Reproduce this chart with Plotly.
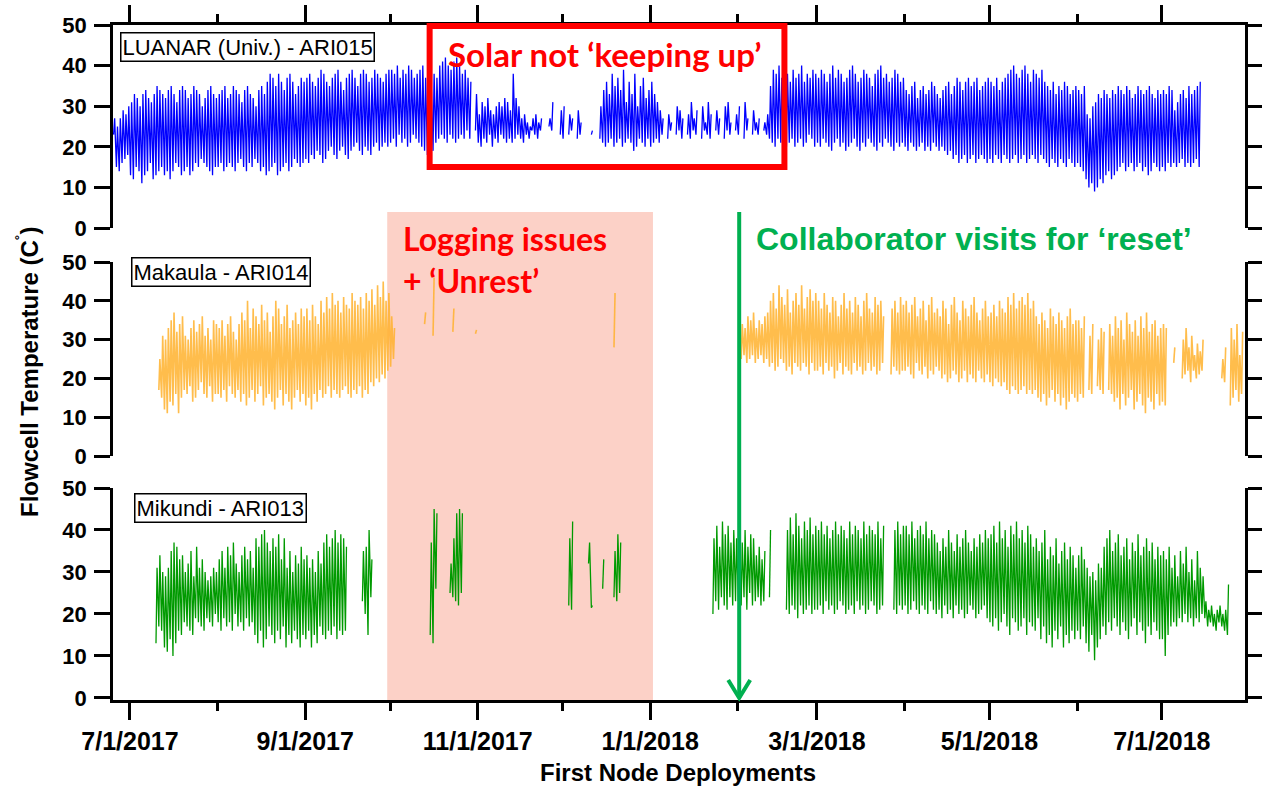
import pandas as pd
import plotly.graph_objects as go

N = None
START = "2017-06-25"          # first day of the daily series below
X_RANGE = ["2017-06-25 00:00", "2018-07-30 10:00"]

# ---------------- LUANAR (Univ.) - ARI015 : daily max / min (deg C) ----------------
luanar_hi = (
    [27, 25, 27, 29, 28, 30] +                                                             # Jun 25-30
    [31, 33, 32, 30, 33, 34, 32, 31, 33, 35, 34, 33, 32, 34, 35, 33, 31, 34, 35, 34,
     32, 33, 35, 34, 33, 30, 32, 34, 35, 33, 32] +                                         # Jul
    [33, 34, 35, 32, 33, 35, 34, 33, 31, 34, 35, 33, 32, 30, 34, 35, 33, 36, 38, 37,
     35, 38, 36, 34, 37, 38, 36, 33, 35, 37, 36] +                                         # Aug
    [37, 38, 36, 35, 37, 39, 38, 36, 35, 37, 38, 39, 36, 34, 37, 38, 39, 37, 35, 38,
     39, 38, 36, 37, 39, 38, 37, 36, 38, 39] +                                             # Sep
    [39, 38, 40, 37, 39, 38, 40, 39, 37, 38, 39, 40, 37, 36, 35, 38, 37, 40, 41, 42,
     40, 39, 41, 42, 40, 38, 39, 37, 36, N, 33] +                                          # Oct
    [28, 31, 30, 32, 29, 28, 30, 31, 30, 32, 31, 29, 38, 32, 30, 27, 28, 26, 25, 27,
     28, 26, 27, N, N, 27, 31, N, N, 29] +                                                 # Nov
    [30, N, 28, 27, N, 29, 26, N, N, N, 24, N, N, 30, 34, 36, 33, 38, 35, 37,
     34, 39, 31, 36, 33, 38, 30, 35, 37, 32, 34] +                                         # Dec
    [36, 33, 31, 29, 27, N, 28, 26, N, 30, 29, 27, N, 28, 31, 27, 29, N, 30, 26,
     31, 28, N, 29, 27, N, 30, 31, 26, N, 28] +                                            # Jan 2018
    [30, N, 31, 27, N, 29, 26, 27, N, 26, 28, 35, 39, 38, 40, 37, 39, 38, 36, 39,
     37, 38, 40, 36, 38, 37, 39, 38] +                                                     # Feb
    [37, 39, 38, 36, 38, 40, 37, 39, 38, 36, 37, 39, 40, 38, 36, 37, 39, 38, 37, 35,
     38, 39, 40, 37, 38, 36, 37, 39, 38, 36, 37] +                                         # Mar
    [34, 33, 35, 36, 32, 34, 35, 33, 34, 36, 35, 33, 32, 34, 35, 36, 33, 35, 37, 36,
     34, 36, 37, 35, 36, 37, 34, 35, 36, 37] +                                             # Apr
    [36, 35, 37, 34, 36, 37, 38, 39, 40, 38, 37, 39, 40, 38, 36, 39, 38, 37, 39, 36,
     35, 34, 36, 33, 35, 34, 36, 35, 33, 34, 35] +                                         # May
    [34, 33, 35, 28, 27, 30, 31, 33, 32, 34, 33, 32, 34, 33, 35, 34, 33, 35, 34, 32,
     33, 35, 34, 33, 34, 35, 33, 32, 34, 33] +                                             # Jun
    [34, 33, 35, 34, 29, 31, 33, 34, 32, 35, 33, 34, 35, 36] + [N] * 15                    # Jul
)
luanar_lo = (
    [23, 15, 14, 16, 17, 18] +
    [13, 12, 15, 14, 11, 13, 14, 16, 12, 13, 14, 15, 13, 14, 12, 14, 16, 15, 13, 14,
     15, 13, 14, 16, 15, 17, 16, 15, 14, 13, 15] +
    [15, 16, 14, 15, 16, 15, 14, 16, 17, 15, 14, 16, 15, 17, 16, 14, 15, 13, 14, 15,
     16, 13, 14, 15, 16, 14, 15, 17, 16, 15, 16] +
    [17, 16, 18, 17, 19, 18, 16, 17, 19, 20, 18, 17, 19, 20, 18, 17, 19, 20, 21, 19,
     18, 20, 19, 18, 20, 21, 19, 20, 21, 20] +
    [21, 22, 20, 23, 21, 22, 20, 21, 23, 22, 21, 20, 19, 18, 17, 19, 21, 22, 23, 22,
     21, 23, 22, 21, 22, 23, 22, 24, 22, N, 24] +
    [21, 20, 22, 21, 23, 20, 22, 21, 23, 22, 21, 22, 21, 22, 23, 22, 21, 23, 22, 24,
     23, 22, 24, N, N, 25, 24, N, N, 23] +
    [22, N, 23, 24, N, 22, 23, N, N, N, 23, N, N, 22, 21, 20, 21, 22, 20, 21,
     22, 20, 21, 22, 21, 19, 20, 22, 21, 20, 22] +
    [20, 21, 22, 21, 23, N, 22, 24, N, 23, 24, 22, N, 23, 22, 24, 23, N, 22, 24,
     23, 22, N, 24, 23, N, 22, 24, 23, N, 24] +
    [23, N, 22, 24, N, 23, 24, 23, N, 24, 23, 22, 21, 20, 22, 21, 23, 20, 21, 22,
     20, 21, 22, 20, 21, 23, 22, 20] +
    [21, 20, 22, 21, 20, 19, 21, 22, 20, 21, 19, 20, 21, 22, 20, 19, 21, 20, 22, 21,
     20, 19, 21, 20, 22, 21, 20, 19, 21, 20, 21] +
    [20, 19, 21, 20, 19, 20, 21, 19, 20, 19, 21, 20, 19, 20, 19, 18, 19, 17, 18, 16,
     17, 18, 16, 17, 18, 16, 17, 18, 17, 16] +
    [17, 16, 18, 17, 16, 18, 17, 16, 17, 18, 16, 17, 18, 16, 17, 18, 17, 16, 18, 17,
     16, 15, 17, 16, 15, 17, 16, 15, 17, 16, 15] +
    [16, 15, 14, 12, 10, 11, 9, 10, 12, 11, 13, 14, 12, 13, 14, 15, 16, 14, 15, 16,
     14, 15, 16, 14, 15, 13, 14, 16, 15, 14] +
    [15, 14, 16, 15, 16, 15, 16, 17, 15, 16, 15, 16, 17, 15] + [N] * 15
)

# ---------------- Makaula - ARI014 : daily max / min (deg C) ----------------
makaula_hi = (
    [N] * 6 +
    [N] * 10 + [25, 31, 30, 33, 35, 37, 32, 34, 36, 31, 30, 33, 35, 32, 34, 36, 31, 33, 30, 35, 34] +
    [33, 35, 31, 34, 36, 32, 30, 34, 37, 35, 40, 33, 38, 36, 34, 39, 35, 37, 32, 36,
     40, 38, 34, 36, 39, 33, 35, 37, 34, 38, 36] +
    [38, 35, 39, 36, 34, 40, 37, 41, 38, 42, 39, 40, 37, 41, 39, 38, 42, 40, 39, 41,
     38, 42, 40, 43, 39, 44, 41, 45, 40, 42] +
    [36, 33] + [N] * 10 + [37, N, N, 46] + [N] * 6 + [38] + [N] * 7 + [32.5] +
    [N] * 30 +
    [N] * 18 + [42] + [N] * 12 +
    [N] * 31 +
    [N, 34, 33, 36, 35, 37, 33, 35, 34, 36, 37, 40, 42, 38, 44, 41, 39, 43, 37, 40,
     42, 39, 44, 38, 41, 43, 40, 42] +
    [40, 38, 42, 39, 37, 41, 40, 36, 39, 42, 38, 40, 37, 41, 39, 36, 40, 42, 38, 37,
     41, 39, 40, 36, N, N, 38, 40, 37, 41, 39] +
    [40, 37, 39, 41, 36, 38, 40, 35, 39, 41, 37, 38, 36, 40, 38, 34, 39, 41, 37, 35,
     40, 38, 36, 39, 41, 37, 35, 38, 40, 36] +
    [37, 39, 36, 40, 38, 37, 41, 39, 42, 38, 40, 41, 39, 42, 38, 40, 36, 34, 37, 35,
     33, 38, 36, 34, 37, 35, 33, 36, 38, 34, 35] +
    [35, 33, 36, N, 31, 34, N, 30, 33, 32, N, 34, 31, 36, 33, 35, 30, 37, 34, 32,
     35, 31, 36, 33, 37, 32, 34, 35, 31, 33] +
    [34, 33, N, N, 28, N, N, 30, 33, 28, 31, 26, 29, 27, 30] + [N] * 6 + [25, 28, N, 33, 30, 34, 26, 32]
)
makaula_lo = (
    [N] * 6 +
    [N] * 10 + [17, 15, 12, 11, 14, 13, 16, 11, 15, 17, 16, 18, 14, 15, 17, 19, 16, 15, 18, 14, 16] +
    [16, 15, 17, 14, 18, 16, 15, 17, 14, 16, 13, 15, 17, 14, 16, 18, 13, 15, 16, 14,
     12, 15, 17, 13, 16, 14, 12, 15, 17, 14, 16] +
    [13, 15, 12, 16, 14, 17, 15, 16, 18, 15, 17, 16, 15, 17, 18, 16, 15, 17, 16, 18,
     15, 17, 16, 19, 18, 20, 19, 21, 20, 22] +
    [23, 25] + [N] * 10 + [34, N, N, 31] + [N] * 6 + [32] + [N] * 7 + [31.5] +
    [N] * 30 +
    [N] * 18 + [28] + [N] * 12 +
    [N] * 31 +
    [N, 25, 26, 24, 25, 26, 24, 25, 26, 24, 25, 23, 24, 22, 23, 25, 24, 22, 23, 21,
     24, 23, 22, 24, 23, 21, 24, 22] +
    [22, 23, 21, 24, 22, 23, 20, 22, 24, 21, 23, 22, 21, 24, 22, 23, 21, 22, 24, 22,
     23, 21, 22, 24, N, N, 21, 23, 22, 21, 22] +
    [22, 23, 21, 20, 24, 22, 21, 23, 20, 22, 21, 23, 22, 20, 21, 19, 20, 22, 21, 19,
     20, 22, 19, 21, 20, 19, 22, 20, 19, 21] +
    [19, 18, 20, 19, 18, 19, 17, 16, 18, 17, 16, 17, 18, 16, 17, 16, 17, 15, 14, 16,
     13, 15, 17, 14, 16, 13, 15, 12, 14, 16, 15] +
    [14, 16, 15, N, 17, 16, N, 18, 17, 16, N, 17, 16, 14, 15, 12, 16, 13, 15, 17,
     12, 14, 16, 13, 11, 15, 14, 12, 16, 13] +
    [14, 13, N, N, 24, N, N, 20, 21, 22, 19, 22, 20, 21, 22] + [N] * 6 + [20, 19, N, 13, 15, 17, 14, 16]
)

# ---------------- Mikundi - ARI013 : daily max / min (deg C) ----------------
mikundi_hi = (
    [N] * 6 +
    [N] * 9 + [31, 34, 30, 29, 31, 35, 37, 36, 33, 34, 30, 32, 35, 29, 36, 31, 33, 30, 28, 29, 31, 30] +
    [33, 35, 31, 36, 34, 37, 32, 30, 34, 36, 33, 35, 31, 38, 36, 39, 40, 37, 35, 38,
     36, 39, 33, 38, 31, 35, 30, 34, 32, 36, 33] +
    [34, 31, 33, 30, 35, 32, 37, 39, 36, 38, 40, 37, 39, 38, 36] + [N] * 5 + [35, 36, 40, 33] + [N] * 6 +
    [N] * 14 + [37, 45, 44] + [N] * 4 + [32, 38, 44, 45, 44] + [N] * 5 +
    [N] * 30 +
    [N, N, 38, 42] + [N] * 5 + [37, 22] + [N] * 3 + [33] + [N] * 3 + [35, 39, 37] + [N] * 10 +
    [N] * 22 + [38, 41, 36, 42, 39, 41, 37, 40, 38] +
    [41, 37, 40, 36, 39, 38, 34, 36, 33, 35, N, 40] + [N] * 5 + [40, 43, 39, 44, 41, 38, 42, 40, 43, 39, 41] +
    [40, 42, 39, 41, 38, 40, 42, 39, 41, 40, 38, 42, 39, 41, 40, 38, 42, 39, 41, 40,
     39, 42, 38, 41, N, N, N, 40, 42, 39, 41] +
    [41, 39, 42, 38, 40, 41, 39, 42, 38, 40, 39, 37, 35, 38, 36, 40, 37, 35, 39, 36,
     38, 40, 37, 35, 38, 36, 39, 37, 40, 38] +
    [39, 41, 37, 42, 38, 40, 36, 41, 39, 42, 38, 40, 37, 41, 39, 36, 38, 35, 37, 40,
     33, 36, 34, 38, 32, 35, 37, 33, 36, 34, 31] +
    [34, 36, 33, 31, 29, 30, 28, 32, 31, 36, 38, 40, 35, 37, 39, 34, 36, 38, 33, 37,
     35, 39, 34, 36, 38, 35, 37, 33, 36, 34] +
    [35, 33, 36, 31, 34, 29, 35, 32, 36, 30, 33, 28, 35, 31, 29, 23, 21, 22, 20, 21,
     22, 20, 21, 27] + [N] * 5
)
mikundi_lo = (
    [N] * 6 +
    [N] * 9 + [13, 17, 16, 12, 11, 14, 10, 13, 16, 15, 18, 17, 16, 15, 19, 18, 17, 16, 19, 18, 17, 20] +
    [18, 16, 19, 17, 18, 16, 20, 17, 18, 16, 19, 17, 18, 15, 13, 16, 12, 14, 17, 15,
     13, 16, 14, 17, 12, 15, 13, 16, 14, 12, 15] +
    [14, 16, 12, 15, 13, 17, 15, 14, 16, 15, 17, 14, 16, 15, 16] + [N] * 5 + [23, 20, 15, 24] + [N] * 6 +
    [N] * 14 + [15, 13, 26] + [N] * 4 + [25, 24, 23, 22, 25] + [N] * 5 +
    [N] * 30 +
    [N, N, 22, 21] + [N] * 5 + [32, 21.5] + [N] * 3 + [26] + [N] * 3 + [24, 23, 25] + [N] * 10 +
    [N] * 22 + [20, 23, 21, 24, 22, 21, 24, 22, 23] +
    [23, 22, 24, 21, 25, 22, 23, 24, 22, 23, N, 24] + [N] * 5 + [21, 20, 22, 21, 19, 22, 20, 21, 22, 20, 21] +
    [21, 22, 20, 23, 21, 22, 20, 21, 23, 22, 20, 21, 22, 20, 23, 21, 22, 20, 21, 23,
     22, 20, 21, 22, N, N, N, 21, 20, 22, 21] +
    [22, 20, 21, 23, 21, 20, 22, 21, 20, 23, 21, 20, 21, 19, 22, 20, 21, 19, 22, 20,
     21, 19, 20, 22, 21, 19, 20, 21, 22, 19] +
    [18, 17, 19, 16, 18, 20, 17, 15, 19, 18, 16, 17, 19, 15, 18, 17, 16, 19, 14, 17,
     13, 15, 12, 16, 14, 17, 12, 15, 13, 16, 14] +
    [16, 14, 17, 13, 11, 15, 9, 12, 14, 17, 15, 18, 16, 19, 17, 15, 18, 16, 14, 17,
     19, 15, 18, 16, 13, 17, 15, 18, 16, 14] +
    [14, 10, 15, 17, 18, 17, 19, 18, 20, 18, 19, 17, 19, 18, 20, 19, 17, 18, 17, 16,
     18, 17, 16, 15] + [N] * 5
)

Y_TICKS = [0, 10, 20, 30, 40, 50]
PANEL_LABELS = ["LUANAR (Univ.) - ARI015", "Makaula - ARI014", "Mikundi - ARI013"]
LINE_COLORS = ["#0000ff", "rgba(255,178,45,0.85)", "#009a00"]

# ---------------- layout geometry (pixels of the 1262x789 page) ----------------
W, H = 1262, 789
PL, PR, PT, PB = 113, 1245, 25, 700


def xp(px):
    return (px - PL) / (PR - PL)


def yp(py):
    return (PB - py) / (PB - PT)


R0, R1 = pd.Timestamp(X_RANGE[0]), pd.Timestamp(X_RANGE[1])


def xd(date):
    return (pd.Timestamp(date) - R0) / (R1 - R0)


def zigzag(hi, lo):
    n = min(len(hi), len(lo))
    t0 = pd.Timestamp(START)
    xs, ys = [], []
    for i in range(n):
        h, l = hi[i], lo[i]
        if h is None or l is None:
            if xs and xs[-1] is not None:
                xs.append(None)
                ys.append(None)
            continue
        d = t0 + pd.Timedelta(days=i)
        xs += [(d + pd.Timedelta(hours=5)).strftime("%Y-%m-%d %H:%M"),
               (d + pd.Timedelta(hours=14)).strftime("%Y-%m-%d %H:%M")]
        ys += [l, h]
    return xs, ys


fig = go.Figure()
series = [(luanar_hi, luanar_lo), (makaula_hi, makaula_lo), (mikundi_hi, mikundi_lo)]
for k, (hi, lo) in enumerate(series):
    xs, ys = zigzag(hi, lo)
    sfx = "" if k == 0 else str(k + 1)
    fig.add_trace(go.Scatter(x=xs, y=ys, mode="lines", connectgaps=False,
                             line=dict(color=LINE_COLORS[k], width=1.3 if k != 1 else 1.6),
                             xaxis="x" + sfx, yaxis="y" + sfx, hoverinfo="skip",
                             showlegend=False))

tick_font = dict(family="Liberation Sans, Arial", size=22, color="black", weight="bold")
yaxis_common = dict(range=[0, 50], tickvals=Y_TICKS, showline=True, linecolor="black",
                    linewidth=2.5, mirror="ticks", ticks="outside", ticklen=16,
                    tickwidth=2.5, tickcolor="black", showgrid=False, zeroline=False,
                    tickfont=tick_font, ticklabelstandoff=3, automargin=False)
minor = dict(ticks="outside", dtick="M1", tick0="2017-07-01", ticklen=8,
             tickwidth=2.5, tickcolor="black", showgrid=False)

dom_top = [yp(228), 1.0]
dom_mid = [yp(456), yp(262)]
dom_bot = [0.0, yp(488)]

fig.update_layout(
    width=W, height=H, autosize=False,
    margin=dict(l=PL, r=W - PR, t=PT, b=H - PB, pad=0, autoexpand=False),
    paper_bgcolor="white", plot_bgcolor="rgba(0,0,0,0)",
    showlegend=False,
    xaxis=dict(anchor="y", range=X_RANGE, type="date", side="top", showline=True,
               linecolor="black", linewidth=2.5, ticks="outside", ticklen=17,
               tickwidth=2.5, tickcolor="black", dtick="M2", tick0="2017-07-01",
               showticklabels=False, showgrid=False, zeroline=False, minor=minor,
               automargin=False),
    xaxis2=dict(anchor="y2", range=X_RANGE, type="date", visible=False, automargin=False),
    xaxis3=dict(anchor="y3", range=X_RANGE, type="date", side="bottom", showline=True,
                linecolor="black", linewidth=2.5, ticks="outside", ticklen=17,
                tickwidth=2.5, tickcolor="black", dtick="M2", tick0="2017-07-01",
                tickformat="%-m/%-d/%Y", showgrid=False, zeroline=False,
                tickfont=dict(family="Liberation Sans, Arial", size=25, color="black",
                              weight="bold"),
                ticklabelstandoff=0, minor=minor, automargin=False),
    yaxis=dict(domain=dom_top, anchor="x", **yaxis_common),
    yaxis2=dict(domain=dom_mid, anchor="x2", **yaxis_common),
    yaxis3=dict(domain=dom_bot, anchor="x3", **{**yaxis_common, "range": [-0.5, 50]}),
)

GREEN = "#00b050"
arrow_x = xd("2018-02-01 12:00")
shapes = [
    # shaded "logging issues" period
    dict(type="rect", xref="paper", yref="paper", x0=xd("2017-09-30"), x1=xd("2018-01-02"),
         y0=yp(PB), y1=yp(212), fillcolor="rgb(252,209,199)", line=dict(width=0),
         layer="below"),
    # red box around the solar gap
    dict(type="rect", xref="paper", yref="paper", x0=xd("2017-10-15"), x1=xd("2018-02-17 12:00"),
         y0=yp(167), y1=yp(26), line=dict(color="#ff0000", width=6), layer="above"),
    # green arrow
    dict(type="line", xref="paper", yref="paper", x0=arrow_x, x1=arrow_x,
         y0=yp(212), y1=yp(698), line=dict(color=GREEN, width=4), layer="above"),
    dict(type="path", xref="paper", yref="paper",
         path=f"M {arrow_x - 11 / (PR - PL)},{yp(680)} L {arrow_x},{yp(698)} L {arrow_x + 11 / (PR - PL)},{yp(680)}",
         line=dict(color=GREEN, width=4), layer="above"),
]
fig.update_layout(shapes=shapes)

label_font = dict(family="Liberation Sans, Arial", size=22, color="black")
label_pos = [(247, 47), (220.5, 271.5), (220.5, 508)]
annotations = []
for text, (lx, ly) in zip(PANEL_LABELS, label_pos):
    annotations.append(dict(text=text, xref="paper", yref="paper", x=xp(lx), y=yp(ly),
                            xanchor="center", yanchor="middle", showarrow=False,
                            font=label_font, bgcolor="white", bordercolor="black",
                            borderwidth=1.5, borderpad=1))

annotations += [
    dict(text="Solar not ‘keeping up’", xref="paper", yref="paper", x=xp(605), y=yp(54),
         xanchor="center", yanchor="middle", showarrow=False,
         font=dict(family="Lato", size=33, color="#ff0000", weight="bold")),
    dict(text="Logging issues<br>+ ‘Unrest’", xref="paper", yref="paper", x=xp(401),
         y=yp(259), xanchor="left", yanchor="middle", align="left", showarrow=False,
         font=dict(family="Lato", size=32, color="#ff0000", weight="bold")),
    dict(text="Collaborator visits for ‘reset’", xref="paper", yref="paper", x=xp(754),
         y=yp(239), xanchor="left", yanchor="middle", showarrow=False,
         font=dict(family="Liberation Sans, Arial", size=32, color=GREEN, weight="bold")),
    dict(text="Flowcell Temperature (C<sup>˚</sup>)", xref="paper", yref="paper",
         x=xp(28), y=yp(372), xanchor="center", yanchor="middle", textangle=-90,
         showarrow=False,
         font=dict(family="Liberation Sans, Arial", size=24, color="black", weight="bold")),
    dict(text="First Node Deployments", xref="paper", yref="paper", x=xp(678), y=yp(772),
         xanchor="center", yanchor="middle", showarrow=False,
         font=dict(family="Liberation Sans, Arial", size=24, color="black", weight="bold")),
]
fig.update_layout(annotations=annotations)

fig.write_html("out.html")
